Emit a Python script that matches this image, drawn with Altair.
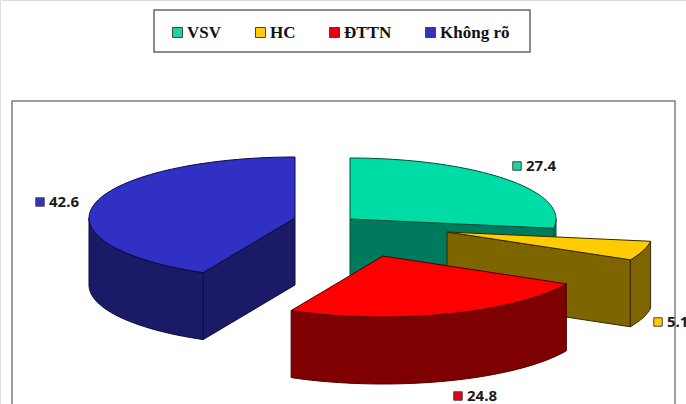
import math
import altair as alt
import pandas as pd

# Share of each category, clockwise from 12 o'clock
categories = ["VSV", "HC", "ĐTTN", "Không rõ"]
values = [27.4, 5.1, 24.8, 42.6]

top_colors = ["#00dca6", "#ffcc00", "#ff0000", "#3030c4"]
side_colors = ["#007a5c", "#7f6500", "#7f0000", "#1a1a66"]
edge_colors = ["#004d3a", "#352a00", "#4a0000", "#0b0b40"]
legend_colors = ["#19d3a2", "#ffcc00", "#e60012", "#3333bb"]

# Exploded centre of each slice and the shape of the tilted disc
centre_x = [350, 447, 383, 295]
centre_y = [219, 232, 256, 218]
radius_x = 206
radius_y = 61
depth = 67

# Position of each value tag
tag_x = [517, 658, 458, 40]
tag_y = [166, 322, 396, 202]


def rim(cx, cy, a0, a1, dy=0.0):
    """Points along the elliptical rim between two clockwise angles in degrees."""
    steps = max(2, int(abs(a1 - a0) / 2))
    pts = []
    for i in range(steps + 1):
        a = math.radians(a0 + (a1 - a0) * i / steps)
        pts.append((cx + radius_x * math.sin(a), cy - radius_y * math.cos(a) + dy))
    return pts


faces = []


def add_face(name, fill, edge, pts):
    closed = pts + [pts[0]]
    for i, (x, y) in enumerate(closed):
        faces.append({"face": name, "fill": fill, "edge": edge, "x": x, "y": y, "i": i})


total = sum(values)
start = 0.0
spans = []
for v in values:
    spans.append((start, start + v / total * 360))
    start += v / total * 360

# Back-to-front painting order: blue, green, yellow, red
for k in [3, 0, 1, 2]:
    a0, a1 = spans[k]
    cx, cy = centre_x[k], centre_y[k]
    top = rim(cx, cy, a0, a1)
    name = categories[k]
    side, edge = side_colors[k], edge_colors[k]
    # Radial wall facing the viewer
    if k in (0, 1):
        p = rim(cx, cy, a1, a1)[0]
        add_face(name + "-radial", side, edge,
                 [(cx, cy), p, (p[0], p[1] + depth), (cx, cy + depth)])
    if k == 3:
        p = rim(cx, cy, a0, a0)[0]
        add_face(name + "-radial", side, edge,
                 [(cx, cy), p, (p[0], p[1] + depth), (cx, cy + depth)])
    # Outer curved wall, only the front half of the rim shows
    w0, w1 = max(a0, 90), min(a1, 270)
    if w1 > w0:
        upper = rim(cx, cy, w0, w1)
        lower = rim(cx, cy, w1, w0, depth)
        add_face(name + "-wall", side, edge, upper + lower)
    add_face(name + "-top", top_colors[k], edge, [(cx, cy)] + top)

faces_df = pd.DataFrame(faces)

x_scale = alt.Scale(domain=[0, 686], range=[0, 686], nice=False, zero=False)
y_scale = alt.Scale(domain=[0, 404], range=[0, 404], nice=False, zero=False)
x_enc = alt.X("x:Q", scale=x_scale, axis=None)
y_enc = alt.Y("y:Q", scale=y_scale, axis=None)

one_row = pd.DataFrame({"a": [0]})

plot_frame = alt.Chart(one_row).mark_rect(
    fill="white", stroke="#808080", strokeWidth=1.5
).encode(x=alt.value(12), x2=alt.value(675), y=alt.value(101), y2=alt.value(440))

legend_frame = alt.Chart(one_row).mark_rect(
    fill="white", stroke="#666666", strokeWidth=1.5
).encode(x=alt.value(154), x2=alt.value(530), y=alt.value(10), y2=alt.value(52))

pie = alt.Chart(faces_df).mark_line(strokeWidth=1, strokeJoin="round").encode(
    x=x_enc,
    y=y_enc,
    fill=alt.Fill("fill:N", scale=None),
    stroke=alt.Stroke("edge:N", scale=None),
    detail="face:N",
    order="i:Q",
)

tags = pd.DataFrame({
    "category": categories,
    "value": [f"{v:.1f}" for v in values],
    "x": tag_x,
    "y": tag_y,
})

squares = alt.Chart(tags).mark_point(
    shape="square", filled=True, size=72, stroke="#444444", strokeWidth=1, opacity=1
).encode(
    x=x_enc,
    y=y_enc,
    color=alt.Color(
        "category:N",
        scale=alt.Scale(domain=categories, range=legend_colors),
        sort=categories,
        legend=alt.Legend(
            title=None,
            orient="none",
            legendX=169,
            legendY=24,
            direction="horizontal",
            columns=4,
            columnPadding=30,
            gridAlign="none",
            symbolType="square",
            symbolSize=100,
            symbolStrokeColor="#444444",
            symbolStrokeWidth=1,
            labelFont="Liberation Serif",
            labelFontWeight="bold",
            labelFontSize=17,
            labelColor="#111111",
            labelOffset=1,
            padding=0,
        ),
    ),
)

labels = alt.Chart(tags).mark_text(
    align="left", baseline="middle", dx=9, font="Noto Sans", fontWeight="bold",
    fontSize=15, color="#1a1a1a"
).encode(x=x_enc, y=y_enc, text="value:N")

chart = (
    alt.layer(plot_frame, legend_frame, pie, squares, labels)
    .properties(width=686, height=404, padding=0, autosize=alt.AutoSizeParams(type="none"))
    .configure_view(stroke=None)
    .configure(background="white")
)

chart.save("out.html", embed_options={"renderer": "svg", "actions": False})
